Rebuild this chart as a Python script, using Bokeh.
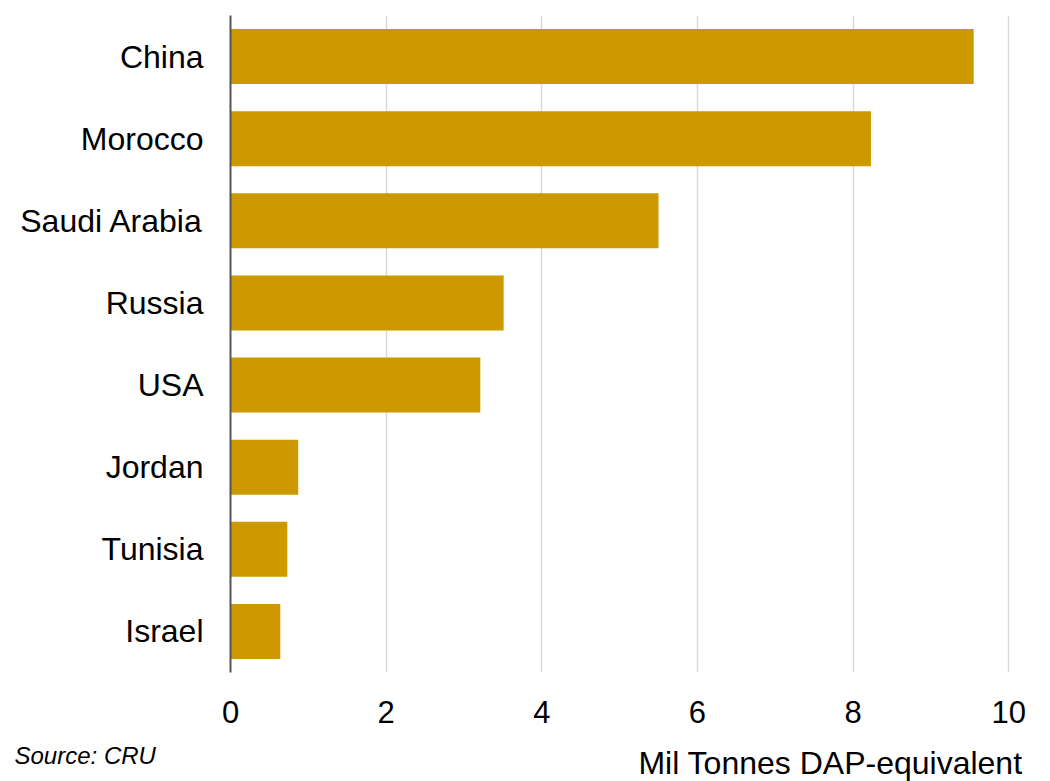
from bokeh.plotting import figure
from bokeh.models import Label, FactorRange, Range1d, FixedTicker
from bokeh.layouts import column, row
from bokeh.embed import file_html
from bokeh.resources import INLINE

countries = ["China", "Morocco", "Saudi Arabia", "Russia", "USA", "Jordan", "Tunisia", "Israel"]
capacity = [9.55, 8.23, 5.50, 3.51, 3.21, 0.87, 0.73, 0.64]
x_ticks = [0, 2, 4, 6, 8, 10]
x_title = "Mil Tonnes DAP-equivalent"
source = "Source: CRU"

FONT = "Liberation Sans"
cats = list(reversed(countries))

p = figure(width=1050, height=735, y_range=FactorRange(*cats, range_padding=0),
           x_range=Range1d(0, 10.1), output_backend="svg", toolbar_location=None,
           min_border_left=230, min_border_right=34, min_border_top=15, min_border_bottom=63)
p.hbar(y=countries, right=capacity, height=0.67, color="#CC9900", line_color=None)

p.outline_line_color = None
p.background_fill_color = "white"
p.ygrid.grid_line_color = None
p.xgrid.grid_line_color = "#d9d9d9"
p.xgrid.grid_line_width = 1.5
p.xaxis.ticker = FixedTicker(ticks=x_ticks)

p.xaxis.axis_line_color = None
p.xaxis.major_tick_line_color = None
p.xaxis.minor_tick_line_color = None
p.xaxis.major_label_standoff = 22
p.xaxis.major_label_text_font = FONT
p.xaxis.major_label_text_font_size = "31px"
p.xaxis.major_label_text_color = "black"

p.yaxis.axis_line_color = "#555555"
p.yaxis.axis_line_width = 2
p.yaxis.major_tick_line_color = None
p.yaxis.minor_tick_line_color = None
p.yaxis.major_label_standoff = 21
p.yaxis.major_label_text_font = FONT
p.yaxis.major_label_text_font_size = "32px"
p.yaxis.major_label_text_color = "black"

# footer strip holding the axis title and the source note (pixel coordinates)
f = figure(width=1050, height=46, x_range=Range1d(0, 1050), y_range=Range1d(46, 0),
           output_backend="svg", toolbar_location=None,
           min_border_left=0, min_border_right=0, min_border_top=0, min_border_bottom=0)
f.axis.visible = False
f.grid.visible = False
f.outline_line_color = None
f.add_layout(Label(x=830, y=27, text=x_title, text_font=FONT, text_font_size="32px",
                   text_align="center", text_baseline="middle", text_color="black"))
f.add_layout(Label(x=14, y=20, text=source, text_font=FONT, text_font_size="24px",
                   text_font_style="italic", text_align="left", text_baseline="middle",
                   text_color="black"))

layout = column(p, row(f), spacing=0)
open("out.html", "w").write(file_html(layout, INLINE))
